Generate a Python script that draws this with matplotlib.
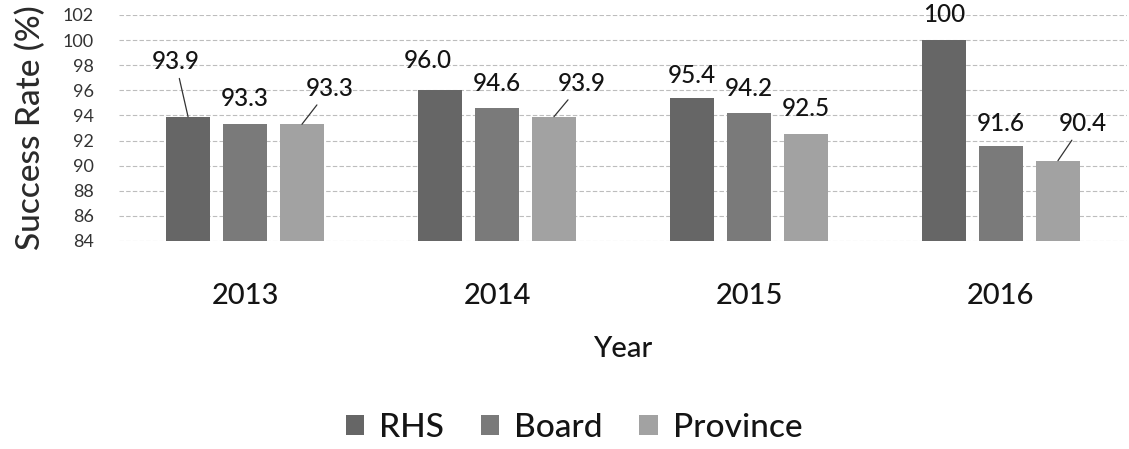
import matplotlib
matplotlib.use("Agg")
import matplotlib.pyplot as plt
from matplotlib.patches import Patch
import numpy as np

plt.rcParams['font.family'] = ['Lato', 'DejaVu Sans']

years = ["2013", "2014", "2015", "2016"]
series_names = ["RHS", "Board", "Province"]
rhs = [93.9, 96.0, 95.4, 100.0]
board = [93.3, 94.6, 94.2, 91.6]
province = [93.3, 93.9, 92.5, 90.4]
label_texts = [["93.9", "96.0", "95.4", "100"],
               ["93.3", "94.6", "94.2", "91.6"],
               ["93.3", "93.9", "92.5", "90.4"]]
yticks = list(range(84, 103, 2))

# layout: label text positions (x offset from bar centre, y in data units), leader flag
label_pos = [
    [(-0.05, 98.3, True), (-0.05, 98.4, False), (-0.0, 97.2, False), (0.0, 102.0, False)],
    [(0.0, 95.35, False), (0.0, 96.55, False), (0.0, 96.15, False), (0.0, 93.35, False)],
    [(0.11, 96.15, True), (0.11, 96.55, True), (0.0, 94.55, False), (0.10, 93.35, True)],
]

colors = ["#666666", "#7a7a7a", "#a2a2a2"]
text_color = "#141414"

fig = plt.figure(figsize=(11.29, 4.49), dpi=100)
ax = fig.add_axes([119/1129, 208/449, 1008/1129, 226/449])

x = np.arange(len(years))
offset = 0.226
width = 0.175
data = [rhs, board, province]
for k, vals in enumerate(data):
    xs = x + (k - 1) * offset
    ax.bar(xs, np.array(vals) - 84, bottom=84, width=width, color=colors[k],
           edgecolor="none", zorder=2)
    for i, v in enumerate(vals):
        dx, ty, leader = label_pos[k][i]
        bx = xs[i]
        if leader:
            ax.annotate(label_texts[k][i], xy=(bx, v), xytext=(bx + dx, ty),
                        ha="center", va="center", fontsize=17.5, color=text_color,
                        fontweight="medium", annotation_clip=False,
                        arrowprops=dict(arrowstyle="-", color="#333333", lw=0.9,
                                        shrinkA=2, shrinkB=0))
        else:
            ax.text(bx + dx, ty, label_texts[k][i], ha="center", va="center",
                    fontsize=17.5, color=text_color, fontweight="medium", clip_on=False)

ax.set_xlim(-0.5, 3.5)
ax.set_ylim(84, 102)
ax.set_yticks(yticks)
ax.set_yticklabels([str(t) for t in yticks], fontsize=13, color="#333333")
ax.set_xticks(x)
ax.set_xticklabels(years, fontsize=21, color=text_color, fontweight="medium")
ax.tick_params(axis="both", length=0)
ax.tick_params(axis="x", pad=30)
ax.tick_params(axis="y", pad=18)
for s in ax.spines.values():
    s.set_visible(False)
ax.grid(axis="y", color="#bdbdbd", linestyle=(0, (4, 2)), linewidth=0.8, zorder=0)
ax.set_axisbelow(True)

ax.set_ylabel("Success Rate (%)", fontsize=24, color="#2a2a2a", fontweight="medium")
ax.yaxis.set_label_coords(-0.072, 0.5)
ax.set_xlabel("Year", fontsize=21, color=text_color, labelpad=20, fontweight="medium")

handles = [Patch(facecolor=c, edgecolor="none") for c in colors]
fig.legend(handles, series_names, loc="center", bbox_to_anchor=(574/1129, 1 - 428/449),
           ncol=3, frameon=False, handlelength=0.55, handleheight=0.55,
           handletextpad=0.45, columnspacing=1.1, labelcolor=text_color,
           prop={"weight": "medium", "size": 24})

fig.savefig("out.png", dpi=100)
